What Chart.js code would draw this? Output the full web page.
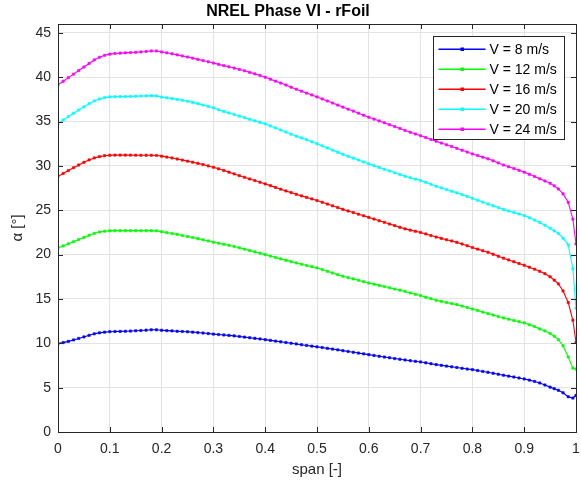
<!DOCTYPE html>
<html lang="en">
<head>
<meta charset="UTF-8">
<title>NREL Phase VI - rFoil</title>
<script src="https://cdn.jsdelivr.net/npm/chart.js"></script>
<style>
  html, body { margin: 0; padding: 0; background: #fff; }
</style>
</head>
<body>
<canvas id="alphaChart" width="581" height="486"></canvas>
<script>
// spanwise position r/R
const spanPos = [
  0.00, 0.01, 0.02, 0.03, 0.04, 0.05, 0.06, 0.07, 0.08, 0.09,
  0.10, 0.11, 0.12, 0.13, 0.14, 0.15, 0.16, 0.17, 0.18, 0.19,
  0.20, 0.21, 0.22, 0.23, 0.24, 0.25, 0.26, 0.27, 0.28, 0.29,
  0.30, 0.31, 0.32, 0.33, 0.34, 0.35, 0.36, 0.37, 0.38, 0.39,
  0.40, 0.41, 0.42, 0.43, 0.44, 0.45, 0.46, 0.47, 0.48, 0.49,
  0.50, 0.51, 0.52, 0.53, 0.54, 0.55, 0.56, 0.57, 0.58, 0.59,
  0.60, 0.61, 0.62, 0.63, 0.64, 0.65, 0.66, 0.67, 0.68, 0.69,
  0.70, 0.71, 0.72, 0.73, 0.74, 0.75, 0.76, 0.77, 0.78, 0.79,
  0.80, 0.81, 0.82, 0.83, 0.84, 0.85, 0.86, 0.87, 0.88, 0.89,
  0.90, 0.91, 0.92, 0.93, 0.94, 0.95,
  0.958, 0.966, 0.975, 0.985, 0.994, 1.00
];

// angle of attack [deg] per wind speed
const alpha8 = [
  9.96, 10.08, 10.22, 10.38, 10.55, 10.72, 10.90, 11.07, 11.18, 11.26,
  11.31, 11.33, 11.34, 11.36, 11.38, 11.41, 11.44, 11.48, 11.52, 11.52,
  11.47, 11.43, 11.40, 11.36, 11.33, 11.30, 11.26, 11.21, 11.16, 11.10,
  11.04, 10.99, 10.94, 10.89, 10.84, 10.77, 10.70, 10.63, 10.56, 10.49,
  10.41, 10.33, 10.25, 10.17, 10.09, 10.01, 9.93, 9.84, 9.76, 9.68,
  9.60, 9.52, 9.43, 9.35, 9.26, 9.17, 9.08, 8.99, 8.90, 8.81,
  8.72, 8.63, 8.54, 8.45, 8.37, 8.28, 8.20, 8.12, 8.04, 7.97,
  7.90, 7.80, 7.70, 7.60, 7.52, 7.43, 7.35, 7.27, 7.18, 7.10,
  7.03, 6.93, 6.83, 6.73, 6.62, 6.51, 6.40, 6.30, 6.20, 6.09,
  5.98, 5.85, 5.70, 5.53, 5.30, 5.06,
  4.88, 4.70, 4.42, 3.97, 3.83, 4.12
];
const alpha12 = [
  20.75, 20.98, 21.22, 21.46, 21.70, 21.94, 22.18, 22.40, 22.55, 22.64,
  22.68, 22.70, 22.70, 22.70, 22.70, 22.70, 22.70, 22.70, 22.70, 22.68,
  22.58, 22.48, 22.38, 22.28, 22.16, 22.04, 21.92, 21.80, 21.67, 21.54,
  21.40, 21.29, 21.17, 21.05, 20.92, 20.77, 20.62, 20.46, 20.31, 20.16,
  20.00, 19.84, 19.68, 19.52, 19.36, 19.21, 19.06, 18.92, 18.78, 18.64,
  18.50, 18.31, 18.12, 17.93, 17.74, 17.56, 17.41, 17.26, 17.11, 16.95,
  16.80, 16.67, 16.53, 16.40, 16.26, 16.12, 15.99, 15.85, 15.68, 15.53,
  15.38, 15.20, 15.03, 14.85, 14.73, 14.60, 14.48, 14.36, 14.20, 14.03,
  13.87, 13.70, 13.52, 13.35, 13.19, 13.02, 12.86, 12.72, 12.58, 12.44,
  12.30, 12.09, 11.88, 11.62, 11.40, 11.10,
  10.80, 10.40, 9.72, 8.46, 7.20, 7.10
];
const alpha16 = [
  28.83, 29.15, 29.48, 29.80, 30.10, 30.40, 30.68, 30.90, 31.05, 31.15,
  31.20, 31.22, 31.22, 31.22, 31.22, 31.21, 31.20, 31.20, 31.20, 31.18,
  31.10, 31.00, 30.90, 30.78, 30.66, 30.54, 30.42, 30.29, 30.15, 30.00,
  29.85, 29.67, 29.49, 29.30, 29.10, 28.90, 28.72, 28.53, 28.35, 28.16,
  27.97, 27.78, 27.58, 27.38, 27.18, 26.99, 26.80, 26.62, 26.45, 26.28,
  26.10, 25.90, 25.70, 25.50, 25.30, 25.10, 24.92, 24.74, 24.56, 24.38,
  24.20, 24.01, 23.82, 23.64, 23.45, 23.27, 23.08, 22.90, 22.76, 22.63,
  22.50, 22.33, 22.15, 21.98, 21.83, 21.68, 21.54, 21.38, 21.20, 21.00,
  20.80, 20.62, 20.44, 20.26, 20.04, 19.82, 19.60, 19.40, 19.20, 19.00,
  18.80, 18.58, 18.36, 18.12, 17.85, 17.50,
  17.12, 16.70, 15.90, 14.60, 12.60, 10.10
];
const alpha20 = [
  34.80, 35.18, 35.56, 35.94, 36.30, 36.66, 37.02, 37.33, 37.55, 37.70,
  37.78, 37.80, 37.81, 37.82, 37.84, 37.86, 37.88, 37.90, 37.92, 37.90,
  37.76, 37.68, 37.59, 37.50, 37.40, 37.30, 37.16, 37.02, 36.87, 36.71,
  36.54, 36.34, 36.15, 35.97, 35.79, 35.62, 35.44, 35.26, 35.08, 34.91,
  34.74, 34.51, 34.28, 34.05, 33.82, 33.58, 33.35, 33.16, 32.96, 32.72,
  32.50, 32.26, 32.02, 31.78, 31.54, 31.30, 31.09, 30.88, 30.66, 30.45,
  30.23, 30.03, 29.83, 29.63, 29.43, 29.23, 29.03, 28.83, 28.67, 28.51,
  28.35, 28.15, 27.92, 27.70, 27.52, 27.33, 27.15, 26.96, 26.76, 26.55,
  26.35, 26.13, 25.92, 25.70, 25.50, 25.30, 25.10, 24.92, 24.75, 24.58,
  24.40, 24.15, 23.89, 23.62, 23.32, 22.98,
  22.68, 22.38, 21.85, 21.10, 18.40, 13.95
];
const alpha24 = [
  39.17, 39.55, 39.95, 40.35, 40.75, 41.15, 41.55, 41.95, 42.25, 42.47,
  42.60, 42.68, 42.72, 42.75, 42.78, 42.81, 42.85, 42.90, 42.96, 42.96,
  42.85, 42.75, 42.64, 42.52, 42.40, 42.28, 42.15, 42.01, 41.88, 41.74,
  41.60, 41.45, 41.31, 41.17, 41.03, 40.88, 40.72, 40.55, 40.38, 40.20,
  40.00, 39.78, 39.56, 39.34, 39.12, 38.88, 38.65, 38.43, 38.21, 38.00,
  37.78, 37.55, 37.32, 37.09, 36.86, 36.63, 36.40, 36.18, 35.95, 35.72,
  35.49, 35.28, 35.07, 34.86, 34.65, 34.44, 34.23, 34.00, 33.80, 33.60,
  33.40, 33.20, 32.98, 32.78, 32.58, 32.38, 32.18, 31.98, 31.77, 31.56,
  31.35, 31.18, 30.99, 30.80, 30.57, 30.34, 30.10, 29.90, 29.70, 29.50,
  29.30, 29.05, 28.80, 28.55, 28.30, 28.05,
  27.75, 27.40, 26.85, 25.90, 24.00, 21.20
];

const seriesLabels = ['V = 8 m/s', 'V = 12 m/s', 'V = 16 m/s', 'V = 20 m/s', 'V = 24 m/s'];
const seriesValues = [alpha8, alpha12, alpha16, alpha20, alpha24];
const seriesColors = ['#0000ff', '#00ff00', '#ff0000', '#00ffff', '#ff00ff'];

const FONT = "'Liberation Sans', Arial, Helvetica, sans-serif";
const AXIS_COLOR = '#262626';

// matlab style box with inward ticks on all four sides
const boxPlugin = {
  id: 'matlabBox',
  afterDatasetsDraw(chart) {
    const { ctx, chartArea: a, scales } = chart;
    const len = 5;
    ctx.save();
    ctx.strokeStyle = AXIS_COLOR;
    ctx.lineWidth = 1;
    ctx.beginPath();
    scales.x.ticks.forEach(t => {
      const px = Math.round(scales.x.getPixelForValue(t.value)) + 0.5;
      ctx.moveTo(px, a.bottom); ctx.lineTo(px, a.bottom - len);
      ctx.moveTo(px, a.top); ctx.lineTo(px, a.top + len);
    });
    scales.y.ticks.forEach(t => {
      const py = Math.round(scales.y.getPixelForValue(t.value)) + 0.5;
      ctx.moveTo(a.left, py); ctx.lineTo(a.left + len, py);
      ctx.moveTo(a.right, py); ctx.lineTo(a.right - len, py);
    });
    ctx.stroke();
    ctx.strokeRect(Math.round(a.left) + 0.5, Math.round(a.top) + 0.5,
                   Math.round(a.right - a.left), Math.round(a.bottom - a.top));
    ctx.restore();
  }
};

// legend drawn inside the axes, top right corner
const legendPlugin = {
  id: 'insideLegend',
  afterDraw(chart) {
    const { ctx, chartArea: a } = chart;
    const w = 131, rowH = 20, h = 103;
    const x0 = Math.round(a.right - 12 - w) + 0.5;
    const y0 = Math.round(a.top + 12) + 0.5;
    ctx.save();
    ctx.fillStyle = '#fff';
    ctx.fillRect(x0, y0, w, h);
    ctx.strokeStyle = AXIS_COLOR;
    ctx.lineWidth = 1;
    ctx.strokeRect(x0, y0, w, h);
    ctx.font = '14px ' + FONT;
    ctx.textBaseline = 'middle';
    seriesLabels.forEach((label, i) => {
      const y = Math.round(y0 + 12 + i * rowH);
      ctx.fillStyle = seriesColors[i];
      ctx.fillRect(x0 + 5, y - 0.5, 47, 1.5);
      ctx.fillRect(x0 + 27, y - 1.5, 3.5, 3.5);
      ctx.fillStyle = '#000';
      ctx.fillText(label, x0 + 56, y + 1);
    });
    ctx.restore();
  }
};

const datasets = seriesValues.map((vals, i) => ({
  label: seriesLabels[i],
  data: spanPos.map((s, j) => ({ x: s, y: vals[j] })),
  borderColor: seriesColors[i],
  backgroundColor: seriesColors[i],
  borderWidth: 1.1,
  pointRadius: 1.6,
  pointStyle: 'rect',
  pointBorderWidth: 0.6,
  tension: 0
}));

new Chart(document.getElementById('alphaChart'), {
  type: 'line',
  data: { datasets },
  options: {
    responsive: false,
    animation: false,
    layout: { padding: { left: 0, right: 5, top: 0, bottom: 0 } },
    plugins: {
      legend: { display: false },
      tooltip: { enabled: false },
      title: {
        display: true,
        text: 'NREL Phase VI - rFoil',
        color: '#000',
        font: { family: FONT, size: 16, weight: 'bold', lineHeight: 1.25 },
        padding: { top: 2, bottom: 2 }
      }
    },
    scales: {
      x: {
        type: 'linear',
        min: 0,
        max: 1,
        afterFit: s => { s.height = 54; s.paddingLeft = 0; s.paddingRight = 0; },
        border: { display: false },
        grid: { color: '#e3e3e3', drawTicks: false },
        ticks: {
          stepSize: 0.1,
          padding: 9,
          color: AXIS_COLOR,
          font: { family: FONT, size: 14 },
          maxRotation: 0,
          callback: v => String(Math.round(v * 10) / 10)
        },
        title: {
          display: true,
          text: 'span [-]',
          color: AXIS_COLOR,
          font: { family: FONT, size: 15, lineHeight: 1.2 },
          padding: { top: 0, bottom: 7 }
        }
      },
      y: {
        type: 'linear',
        min: 0,
        max: 46,
        afterFit: s => { s.width = 58; s.paddingTop = 0; s.paddingBottom = 0; },
        border: { display: false },
        grid: { color: '#e3e3e3', drawTicks: false },
        ticks: {
          stepSize: 5,
          includeBounds: false,
          padding: 7,
          color: AXIS_COLOR,
          font: { family: FONT, size: 14 }
        },
        title: {
          display: true,
          text: 'α [°]',
          color: AXIS_COLOR,
          font: { family: FONT, size: 15, lineHeight: 1.2 },
          padding: { top: 9, bottom: 0 }
        }
      }
    }
  },
  plugins: [boxPlugin, legendPlugin]
});
</script>
</body>
</html>
